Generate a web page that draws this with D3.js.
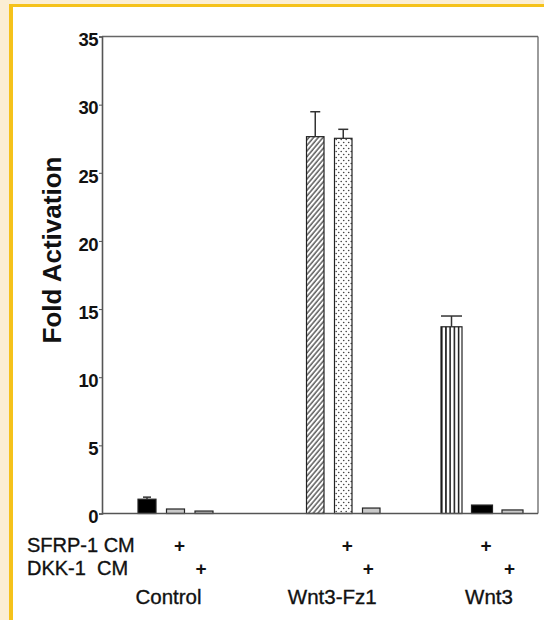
<!DOCTYPE html>
<html><head><meta charset="utf-8">
<script src="https://cdn.jsdelivr.net/npm/d3@7"></script>
<style>body{margin:0;padding:0;background:#fff}svg{display:block}text{font-family:Arial,"Liberation Sans",sans-serif}</style>
</head><body><svg id="c" width="544" height="620"></svg>
<script>
// ---- data ----
const groups = ["Control", "Wnt3-Fz1", "Wnt3"];
const treatments = ["alone", "SFRP-1 CM", "DKK-1 CM"];
const controlValues = [1.05, 0.33, 0.18];
const wnt3Fz1Values = [27.65, 27.53, 0.40];
const wnt3Values = [13.7, 0.62, 0.26];
const controlErrors = [0.15, 0, 0];
const wnt3Fz1Errors = [1.83, 0.66, 0];
const wnt3Errors = [0.79, 0, 0];
const yTicks = [0, 5, 10, 15, 20, 25, 30, 35];
const rowLabels = ["SFRP-1 CM", "DKK-1  CM"];
const yLabel = "Fold Activation";

const valuesByGroup = [controlValues, wnt3Fz1Values, wnt3Values];
const errorsByGroup = [controlErrors, wnt3Fz1Errors, wnt3Errors];
const bars = [];
groups.forEach((g, gi) => treatments.forEach((t, ti) => bars.push({group: g, gi, t, ti, v: valuesByGroup[gi][ti], e: errorsByGroup[gi][ti]})));

// ---- layout ----
const svg = d3.select("#c");
svg.append("rect").attr("width", 544).attr("height", 620).attr("fill", "#fbeed4");
svg.append("rect").attr("x", 9).attr("y", 4).attr("width", 544).attr("height", 620).attr("fill", "#f5c21b");
svg.append("rect").attr("x", 13).attr("y", 7).attr("width", 544).attr("height", 620).attr("fill", "#ffffff");

const L = 102, R = 538, T = 36.5, B = 513.5;
const y = d3.scaleLinear().domain([0, 35]).range([B, T]);

const groupStart = d3.scaleOrdinal().domain(groups).range([138, 306.5, 441]);
const groupStep = d3.scaleOrdinal().domain(groups).range([28.5, 28, 30.5]);
const groupBarW = d3.scaleOrdinal().domain(groups).range([18, 17.5, 21]);
const capW = d3.scaleOrdinal().domain(groups).range([8, 10, 21]);
const inner = {};
groups.forEach(g => {
  const s = groupStart(g), st = groupStep(g), w = groupBarW(g);
  inner[g] = d3.scaleBand().domain(treatments).range([s, s + 2 * st + w]).paddingInner(1 - w / st).paddingOuter(0);
});

// patterns
const defs = svg.append("defs");
const hatch = defs.append("pattern").attr("id", "hatch").attr("patternUnits", "userSpaceOnUse")
  .attr("width", 3.6).attr("height", 4).attr("patternTransform", "rotate(40)");
hatch.append("rect").attr("width", 3.6).attr("height", 4).attr("fill", "#fff");
hatch.append("line").attr("x1", 1).attr("y1", 0).attr("x2", 1).attr("y2", 4).attr("stroke", "#333").attr("stroke-width", 1.2);
const dots = defs.append("pattern").attr("id", "dots").attr("patternUnits", "userSpaceOnUse").attr("width", 5).attr("height", 6);
dots.append("rect").attr("width", 5).attr("height", 6).attr("fill", "#fff");
dots.append("circle").attr("cx", 1.2).attr("cy", 1.5).attr("r", 0.8).attr("fill", "#444");
dots.append("circle").attr("cx", 3.7).attr("cy", 4.5).attr("r", 0.8).attr("fill", "#444");
const vs = inner["Wnt3"];
const stripes = defs.append("pattern").attr("id", "stripes").attr("patternUnits", "userSpaceOnUse")
  .attr("x", vs("alone")).attr("y", 0).attr("width", vs.bandwidth() / 5).attr("height", 10);
stripes.append("rect").attr("width", vs.bandwidth() / 5).attr("height", 10).attr("fill", "#fff");
stripes.append("rect").attr("x", 0).attr("width", 1.5).attr("height", 10).attr("fill", "#111");

const fillFor = d => {
  const key = d.group + "|" + d.t;
  const m = {
    "Control|alone": "#000", "Control|SFRP-1 CM": "#c9c9c9", "Control|DKK-1 CM": "#bdbdbd",
    "Wnt3-Fz1|alone": "url(#hatch)", "Wnt3-Fz1|SFRP-1 CM": "url(#dots)", "Wnt3-Fz1|DKK-1 CM": "#c9c9c9",
    "Wnt3|alone": "url(#stripes)", "Wnt3|SFRP-1 CM": "#000", "Wnt3|DKK-1 CM": "#c9c9c9"
  };
  return m[key];
};

// frame
svg.append("line").attr("x1", L).attr("x2", R).attr("y1", T).attr("y2", T).attr("stroke", "#666").attr("stroke-width", 1.3);
svg.append("line").attr("x1", R).attr("x2", R).attr("y1", T).attr("y2", B).attr("stroke", "#666").attr("stroke-width", 1.3);

// y axis
const yAxis = d3.axisLeft(y).tickValues(yTicks).tickSize(3).tickPadding(1).tickFormat(d3.format("d"));
const ga = svg.append("g").attr("transform", `translate(${L},0)`).call(yAxis);
ga.select(".domain").attr("stroke", "#555").attr("stroke-width", 1.6);
ga.selectAll(".tick line").attr("stroke", "#555");
ga.selectAll(".tick text").attr("font-size", 18.5).attr("font-weight", "bold").attr("fill", "#111")
  .attr("dy", "0.5em").attr("font-family", "Arial, 'Liberation Sans', sans-serif").attr("letter-spacing", -0.6);

// bars
svg.append("g").selectAll("rect").data(bars).join("rect")
  .attr("x", d => inner[d.group](d.t))
  .attr("width", d => inner[d.group].bandwidth())
  .attr("y", d => y(d.v))
  .attr("height", d => y(0) - y(d.v))
  .attr("fill", fillFor)
  .attr("stroke", "#222").attr("stroke-width", 1.2);

// error bars
const eb = bars.filter(d => d.e > 0);
const ebg = svg.append("g").attr("stroke", "#333").attr("stroke-width", 1.5);
ebg.selectAll("line.v").data(eb).join("line").attr("class", "v")
  .attr("x1", d => inner[d.group](d.t) + inner[d.group].bandwidth() / 2)
  .attr("x2", d => inner[d.group](d.t) + inner[d.group].bandwidth() / 2)
  .attr("y1", d => y(d.v)).attr("y2", d => y(d.v + d.e));
ebg.selectAll("line.c").data(eb).join("line").attr("class", "c")
  .attr("x1", d => inner[d.group](d.t) + inner[d.group].bandwidth() / 2 - capW(d.group) / 2)
  .attr("x2", d => inner[d.group](d.t) + inner[d.group].bandwidth() / 2 + capW(d.group) / 2)
  .attr("y1", d => y(d.v + d.e)).attr("y2", d => y(d.v + d.e));

// baseline (zero line)
svg.append("line").attr("x1", L).attr("x2", R).attr("y1", y(0)).attr("y2", y(0)).attr("stroke", "#555").attr("stroke-width", 1.5);

// y label
svg.append("text").attr("transform", `translate(61,250) rotate(-90)`)
  .attr("text-anchor", "middle").attr("font-size", 26).attr("font-weight", "bold").attr("fill", "#111").text(yLabel);

// row labels and plus signs
const rowY = [552, 575];
svg.append("g").selectAll("text").data(rowLabels).join("text")
  .attr("x", 27).attr("y", (d, i) => rowY[i]).attr("font-size", 20).attr("fill", "#111")
  .attr("stroke", "#111").attr("stroke-width", 0.35)
  .style("white-space", "pre").text(d => d);
const plusData = [];
groups.forEach(g => { plusData.push({g, t: "SFRP-1 CM", row: 0}); plusData.push({g, t: "DKK-1 CM", row: 1}); });
const plusShift = [4, -3];
svg.append("g").selectAll("text").data(plusData).join("text")
  .attr("x", d => inner[d.g](d.t) + inner[d.g].bandwidth() / 2 + plusShift[d.row])
  .attr("y", d => rowY[d.row])
  .attr("text-anchor", "middle").attr("font-size", 19).attr("font-weight", "bold").attr("fill", "#111").text("+");

// group labels
const labelShift = d3.scaleOrdinal().domain(groups).range([-7, -11, 7]);
svg.append("g").selectAll("text").data(groups).join("text")
  .attr("x", g => { const s = inner[g]; return (s.range()[0] + s.range()[1]) / 2 + labelShift(g); })
  .attr("y", 604).attr("text-anchor", "middle").attr("font-size", 20.5).attr("fill", "#111")
  .attr("stroke", "#111").attr("stroke-width", 0.35).text(g => g);
</script></body></html>
